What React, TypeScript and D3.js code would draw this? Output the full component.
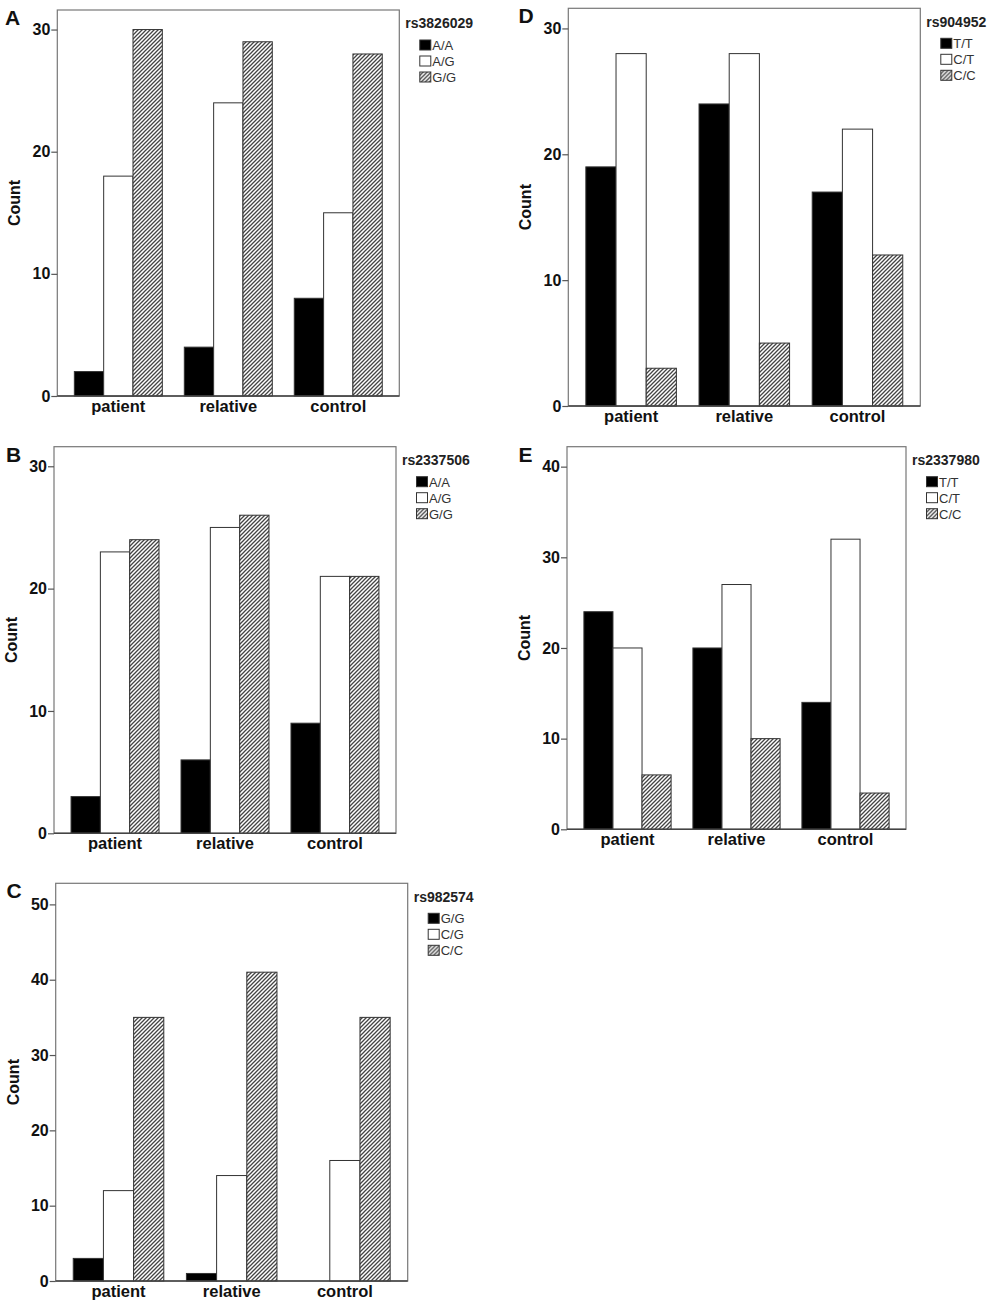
import React, { useEffect, useRef } from 'react';
import * as d3 from 'd3';

// groups shared by every panel
const groups = ['patient', 'relative', 'control'];

// A
const snpA = 'rs3826029';
const genotypesA = ['A/A', 'A/G', 'G/G'];
const countsA = [
    [2, 4, 8],
    [18, 24, 15],
    [30, 29, 28],
];
const ticksA = [0, 10, 20, 30];

// B
const snpB = 'rs2337506';
const genotypesB = ['A/A', 'A/G', 'G/G'];
const countsB = [
    [3, 6, 9],
    [23, 25, 21],
    [24, 26, 21],
];
const ticksB = [0, 10, 20, 30];

// C
const snpC = 'rs982574';
const genotypesC = ['G/G', 'C/G', 'C/C'];
const countsC = [
    [3, 1, 0],
    [12, 14, 16],
    [35, 41, 35],
];
const ticksC = [0, 10, 20, 30, 40, 50];

// D
const snpD = 'rs904952';
const genotypesD = ['T/T', 'C/T', 'C/C'];
const countsD = [
    [19, 24, 17],
    [28, 28, 22],
    [3, 5, 12],
];
const ticksD = [0, 10, 20, 30];

// E
const snpE = 'rs2337980';
const genotypesE = ['T/T', 'C/T', 'C/C'];
const countsE = [
    [24, 20, 14],
    [20, 27, 32],
    [6, 10, 4],
];
const ticksE = [0, 10, 20, 30, 40];

interface Panel {
    letter: string;
    snp: string;
    genotypes: string[];
    counts: number[][];
    ticks: number[];
    yMax: number;
    frame: { x0: number; x1: number; y0: number; y1: number };
    letterX: number;
}

const panels: Panel[] = [
    { letter: 'A', snp: snpA, genotypes: genotypesA, counts: countsA, ticks: ticksA, yMax: 31.6, frame: { x0: 57.3, x1: 399.3, y0: 10, y1: 396 }, letterX: 5 },
    { letter: 'B', snp: snpB, genotypes: genotypesB, counts: countsB, ticks: ticksB, yMax: 31.6, frame: { x0: 54, x1: 396, y0: 446.7, y1: 833.3 }, letterX: 6 },
    { letter: 'C', snp: snpC, genotypes: genotypesC, counts: countsC, ticks: ticksC, yMax: 52.8, frame: { x0: 55.7, x1: 407.7, y0: 883.3, y1: 1281 }, letterX: 6.5 },
    { letter: 'D', snp: snpD, genotypes: genotypesD, counts: countsD, ticks: ticksD, yMax: 31.6, frame: { x0: 568.3, x1: 920.3, y0: 8.3, y1: 406 }, letterX: 518.5 },
    { letter: 'E', snp: snpE, genotypes: genotypesE, counts: countsE, ticks: ticksE, yMax: 42.2, frame: { x0: 567, x1: 906, y0: 446.7, y1: 829.3 }, letterX: 518.5 },
];

const FONT = '"Liberation Sans", Arial, sans-serif';
const fills = ['#000', '#fff', 'url(#hatch)'];

const App: React.FC = () => {
    const svgRef = useRef<SVGSVGElement>(null);

    useEffect(() => {
        const svg = d3.select(svgRef.current);
        svg.selectAll('*').remove();

        // diagonal hatch, rising to the right
        const defs = svg.append('defs');
        const pat = defs.append('pattern')
            .attr('id', 'hatch')
            .attr('patternUnits', 'userSpaceOnUse')
            .attr('width', 4)
            .attr('height', 4);
        pat.append('rect').attr('width', 4).attr('height', 4).attr('fill', '#fff');
        pat.append('path')
            .attr('d', 'M-1,5L5,-1M-1,1L1,-1M3,5L5,3')
            .attr('stroke', '#444')
            .attr('stroke-width', 1.3);

        panels.forEach(p => {
            const { x0, x1, y0, y1 } = p.frame;
            const g = svg.append('g');

            const x = d3.scaleBand()
                .domain(groups)
                .range([x0, x1])
                .paddingInner(0.2)
                .paddingOuter(0.155);

            const xs = d3.scaleBand()
                .domain(p.genotypes)
                .range([0, x.bandwidth()]);

            const y = d3.scaleLinear()
                .domain([0, p.yMax])
                .range([y1, y0]);

            // frame
            g.append('rect')
                .attr('x', x0)
                .attr('y', y0)
                .attr('width', x1 - x0)
                .attr('height', y1 - y0)
                .attr('fill', 'none')
                .attr('stroke', '#777')
                .attr('stroke-width', 1.2);

            // bars
            p.genotypes.forEach((gt, gi) => {
                g.selectAll(`.bar-${gi}`)
                    .data(groups.map((grp, i) => ({ grp, v: p.counts[gi][i] })))
                    .enter()
                    .append('rect')
                    .attr('x', d => (x(d.grp) || 0) + (xs(gt) || 0))
                    .attr('width', xs.bandwidth())
                    .attr('y', d => y(d.v))
                    .attr('height', d => y1 - y(d.v))
                    .attr('fill', fills[gi])
                    .attr('stroke', '#333')
                    .attr('stroke-width', 1);
            });

            // y axis
            const ya = g.append('g')
                .attr('transform', `translate(${x0},0)`)
                .call(d3.axisLeft(y).tickValues(p.ticks).tickSize(6).tickPadding(1).tickFormat(d3.format('d')));
            ya.select('.domain').remove();
            ya.selectAll('line').attr('stroke', '#555').attr('stroke-width', 1.2);
            ya.selectAll('text')
                .style('font-family', FONT)
                .style('font-size', '16px')
                .style('font-weight', 'bold')
                .attr('fill', '#111');

            // x axis
            g.append('line')
                .attr('x1', x0)
                .attr('x2', x1)
                .attr('y1', y1)
                .attr('y2', y1)
                .attr('stroke', '#444')
                .attr('stroke-width', 1.5);

            g.selectAll('.xlab')
                .data(groups)
                .enter()
                .append('text')
                .attr('x', d => (x(d) || 0) + x.bandwidth() / 2)
                .attr('y', y1 + 16)
                .attr('text-anchor', 'middle')
                .style('font-family', FONT)
                .style('font-size', '16.5px')
                .style('font-weight', 'bold')
                .attr('fill', '#111')
                .text(d => d);

            // y title
            g.append('text')
                .attr('transform', `translate(${x0 - 37},${(y0 + y1) / 2}) rotate(-90)`)
                .attr('text-anchor', 'middle')
                .style('font-family', FONT)
                .style('font-size', '16px')
                .style('font-weight', 'bold')
                .attr('fill', '#111')
                .text('Count');

            // panel letter
            g.append('text')
                .attr('x', p.letterX)
                .attr('y', y0 + 15)
                .style('font-family', FONT)
                .style('font-size', '21px')
                .style('font-weight', 'bold')
                .attr('fill', '#111')
                .text(p.letter);

            // legend
            const lg = g.append('g').attr('transform', `translate(${x1 + 6},${y0})`);
            lg.append('text')
                .attr('x', 0)
                .attr('y', 18.3)
                .style('font-family', FONT)
                .style('font-size', '14px')
                .style('font-weight', 'bold')
                .attr('fill', '#222')
                .text(p.snp);

            p.genotypes.forEach((gt, gi) => {
                lg.append('rect')
                    .attr('x', 14.5)
                    .attr('y', 30 + gi * 16)
                    .attr('width', 11)
                    .attr('height', 10)
                    .attr('fill', fills[gi])
                    .attr('stroke', '#333')
                    .attr('stroke-width', 1);
                lg.append('text')
                    .attr('x', 27)
                    .attr('y', 40 + gi * 16)
                    .style('font-family', FONT)
                    .style('font-size', '13px')
                    .attr('fill', '#333')
                    .text(gt);
            });
        });
    }, []);

    return (
        <svg
            ref={svgRef}
            width={992}
            height={1312}
            style={{ position: 'absolute', left: 0, top: 0, background: '#fff' }}
        ></svg>
    );
};

export default App;
